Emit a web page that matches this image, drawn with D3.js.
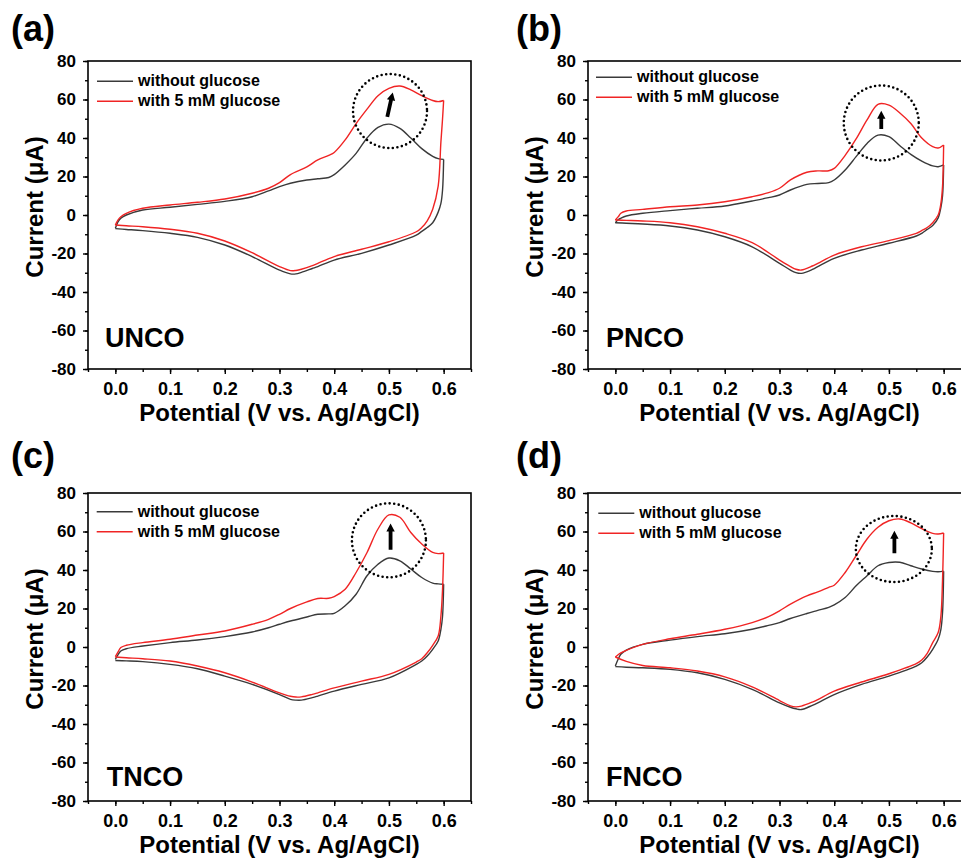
<!DOCTYPE html>
<html>
<head>
<meta charset="utf-8">
<script src="https://cdn.jsdelivr.net/npm/d3@7"></script>
<style>
  html, body { margin: 0; padding: 0; background: #fff; }
  svg { display: block; }
  text { font-family: "Liberation Sans", Arial, Helvetica, sans-serif; font-weight: bold; fill: #000; }
</style>
</head>
<body>
<svg id="chart" width="961" height="861"></svg>
<script>
// ---- Data: cyclic voltammograms (potential in V vs. Ag/AgCl, current in µA) ----
const panelLetters = ["(a)", "(b)", "(c)", "(d)"];
const sampleNames = ["UNCO", "PNCO", "TNCO", "FNCO"];
const seriesLabels = ["without glucose", "with 5 mM glucose"];

const xTickValues = [0.0, 0.1, 0.2, 0.3, 0.4, 0.5, 0.6];
const yTickValues = [-80, -60, -40, -20, 0, 20, 40, 60, 80];

// anodic sweep 0 → 0.6 V
const potentialForward = [0, 0.005, 0.01, 0.02, 0.05, 0.1, 0.15, 0.2, 0.25, 0.28, 0.3, 0.32, 0.35, 0.37, 0.39, 0.4, 0.42, 0.44, 0.46, 0.48, 0.5, 0.52, 0.54, 0.56, 0.58, 0.59, 0.6];
// cathodic sweep 0.6 → 0 V
const potentialReverse = [0.6, 0.598, 0.595, 0.59, 0.58, 0.57, 0.56, 0.55, 0.5, 0.45, 0.4, 0.37, 0.36, 0.34, 0.33, 0.32, 0.3, 0.25, 0.2, 0.15, 0.1, 0.05, 0.02, 0];

// UNCO
const uncoBlankForward   = [-6.9, -3.5, -1.7, 0, 2.6, 4, 5.5, 7.1, 9.5, 12.5, 14.7, 16.5, 18.2, 18.8, 19.5, 21, 26, 32, 40, 45.5, 47.2, 45, 40, 34.5, 30.5, 29.3, 28.9];
const uncoBlankReverse   = [28.9, 13, 6, 1.5, -4, -6.5, -8.5, -10.5, -15.6, -19.9, -23.4, -26.8, -27.8, -29.8, -30.6, -30.6, -28.6, -21.6, -15.6, -11.6, -9.5, -8.1, -7.5, -7.1];
const uncoGlucoseForward = [-5.2, -2.5, -0.9, 0.9, 3.5, 5.2, 6.6, 8.3, 11.3, 13.9, 16.8, 21, 25, 28.6, 31, 32.5, 39, 47.5, 55, 62, 65.8, 67, 65, 62, 59.5, 58.9, 59.5];
const uncoGlucoseReverse = [59.5, 50, 38, 15, 3, -3, -6.5, -8.7, -13.9, -17.8, -21.6, -25.1, -26.3, -28.2, -28.8, -28.9, -26.8, -19.6, -13.5, -9.5, -7.4, -6.1, -5.6, -5.2];

// PNCO
const pncoBlankForward   = [-4, -2.5, -1.7, -0.5, 0.9, 2.3, 3.5, 4.7, 7.3, 9, 10.4, 13, 15.9, 16.4, 16.8, 18.2, 23.4, 30.3, 37.2, 41.5, 40.7, 36, 31.5, 28, 25.5, 25.1, 26];
const pncoBlankReverse   = [26, 10, 4, -1.5, -5.5, -7.5, -9.5, -10.9, -14.7, -18.2, -22.5, -26.8, -28.3, -30.3, -29.9, -28.6, -25.1, -16.5, -11.3, -7.8, -5.7, -4.7, -4.3, -4];
const pncoGlucoseForward = [-2.6, -1, 0.9, 2.1, 2.9, 4.3, 5.2, 6.9, 9.5, 11.6, 13.9, 18.2, 22.2, 22.9, 23, 24.2, 31, 39.5, 49.4, 57.5, 57.1, 53, 47.5, 40, 35.5, 34.8, 36.4];
const pncoGlucoseReverse = [36.4, 15, 6, 0, -4, -6.5, -8.1, -9.5, -13.3, -16.5, -20.8, -25.1, -26.5, -28.6, -28.2, -26.8, -23.4, -14.4, -9.5, -6.1, -4, -3.1, -2.8, -2.6];

// TNCO
const tncoBlankForward   = [-6.4, -4, -2.1, -0.9, 0.5, 2.3, 3.6, 5.4, 7.8, 10, 11.8, 13.5, 15.6, 17, 17.2, 17.5, 21.4, 27.4, 37, 43, 46.2, 44.8, 40.5, 36.1, 33.2, 32.8, 32.6];
const tncoBlankReverse   = [32.6, 16, 9.2, 3.1, -1.2, -4.7, -7.3, -9, -16, -19.4, -22.9, -25.5, -26.3, -27.6, -27.6, -27.2, -24.7, -19.4, -15.1, -11.3, -9, -7.6, -7.2, -7];
const tncoGlucoseForward = [-5, -2.5, -0.3, 0.9, 2.3, 4, 6.2, 8.3, 11.8, 14.4, 17, 20, 23.4, 25.2, 25.3, 26.2, 30, 38.7, 49.1, 61.3, 68.6, 67.4, 59.5, 53.5, 49.1, 48.5, 48.8];
const tncoGlucoseReverse = [48.8, 30, 16.1, 5.7, 0.9, -3, -6.1, -7.8, -14.2, -17.7, -21.2, -23.8, -24.6, -25.9, -26, -25.6, -23.8, -18.2, -13.4, -9.9, -7.3, -6.1, -5.6, -5.2];

// FNCO
const fncoBlankForward   = [-9.9, -6.4, -3.8, -1.6, 1.4, 3.6, 5.4, 6.9, 9.2, 11.2, 12.7, 14.8, 17.4, 19, 20.6, 21.9, 25.7, 31.8, 37, 42.2, 43.9, 44, 42.2, 40.5, 39.3, 39.1, 39.4];
const fncoBlankReverse   = [39.4, 17.9, 9.2, 4, -1.2, -5.2, -8.2, -9.9, -15.1, -19.4, -24.7, -29, -30.3, -32.5, -32.1, -31.3, -29, -22, -16.8, -13.4, -11.6, -10.8, -10.5, -10.2];
const fncoGlucoseForward = [-5.2, -4, -3, -1.7, 1.4, 4.3, 6.6, 9.2, 12.7, 15.8, 18.8, 22.3, 26.6, 28.6, 31, 32.1, 38.7, 47.4, 56.1, 62.2, 65.6, 66.5, 64.5, 61.5, 59, 58.7, 59.2];
const fncoGlucoseReverse = [59.2, 35.2, 16.1, 7.5, 2.3, -3.3, -6.8, -8.7, -13.9, -18.2, -22.9, -27.3, -28.6, -30.7, -31.1, -30.6, -27.8, -20.7, -15.5, -12.5, -10.8, -9.6, -7.5, -5.2];

// oxidation-peak annotations: dotted circle centre and arrow (tail, head) in data units
const peakCircleCenters = [[0.502, 54], [0.486, 47.8], [0.5, 55.4], [0.509, 50.9]];
const arrowTails = [[0.497, 51], [0.486, 44.7], [0.503, 50.5], [0.51, 48.7]];
const arrowHeads = [[0.507, 63.7], [0.486, 54.2], [0.503, 64.2], [0.51, 60.4]];

const curves = [
  [[uncoBlankForward, uncoBlankReverse], [uncoGlucoseForward, uncoGlucoseReverse]],
  [[pncoBlankForward, pncoBlankReverse], [pncoGlucoseForward, pncoGlucoseReverse]],
  [[tncoBlankForward, tncoBlankReverse], [tncoGlucoseForward, tncoGlucoseReverse]],
  [[fncoBlankForward, fncoBlankReverse], [fncoGlucoseForward, fncoGlucoseReverse]]
];

// ---- Layout & style ----
const W = 383, H = 308;
const seriesColors = ["#3a3a3a", "#f02424"];
const panelLayout = [
  { left: 88,  top: 61,  letter: [11, 41],   legend: [9, 20.3],    label: [17, 285.7],   ring: [37, 37] },
  { left: 588, top: 61,  letter: [516, 41],  legend: [8, 16.3],    label: [18, 285.7],   ring: [37.5, 37.5] },
  { left: 88,  top: 493, letter: [11, 468],  legend: [8.7, 18.7],  label: [18.7, 293],   ring: [37, 37] },
  { left: 588, top: 493, letter: [516, 468], legend: [10.3, 20.3], label: [18, 293],     ring: [38, 33] }
];

const svg = d3.select("#chart");

const xMinor = d3.range(-0.05, 0.651, 0.05).map(v => +v.toFixed(2));
const yMinor = d3.range(-80, 81, 10);

panelLayout.forEach((L, i) => {
  // panel letter
  svg.append("text").attr("x", L.letter[0]).attr("y", L.letter[1])
    .attr("font-size", 36).text(panelLetters[i]);

  const g = svg.append("g").attr("transform", `translate(${L.left},${L.top})`);
  const x = d3.scaleLinear().domain([-0.05, 0.65]).range([0, W]);
  const y = d3.scaleLinear().domain([-80, 80]).range([H, 0]);

  // minor ticks
  const xm = g.append("g").attr("transform", `translate(0,${H})`)
    .call(d3.axisBottom(x).tickValues(xMinor).tickSize(3).tickSizeOuter(0).tickFormat(""));
  const ym = g.append("g")
    .call(d3.axisLeft(y).tickValues(yMinor).tickSize(3).tickSizeOuter(0).tickFormat(""));

  // major ticks + labels
  const xa = g.append("g").attr("transform", `translate(0,${H})`)
    .call(d3.axisBottom(x).tickValues(xTickValues).tickSize(5).tickSizeOuter(0).tickPadding(8).tickFormat(d3.format(".1f")));
  const ya = g.append("g")
    .call(d3.axisLeft(y).tickValues(yTickValues).tickSize(5).tickSizeOuter(0).tickPadding(7).tickFormat(d => String(d)));

  [xm, ym, xa, ya].forEach(a => {
    a.select(".domain").remove();
    a.selectAll(".tick line").attr("stroke", "#000").attr("stroke-width", 1.4);
  });
  xa.attr("font-size", 18);
  ya.attr("font-size", 17);

  // plot frame
  g.append("rect").attr("x", 0).attr("y", 0).attr("width", W).attr("height", H)
    .attr("fill", "none").attr("stroke", "#000").attr("stroke-width", 1.6);

  // curves (smooth spline through each sweep)
  const line = d3.line().x(d => x(d[0])).y(d => y(d[1])).curve(d3.curveCatmullRom.alpha(0.5));
  curves[i].forEach((series, s) => {
    const fwd = potentialForward.map((p, k) => [p, series[0][k]]);
    const rev = potentialReverse.map((p, k) => [p, series[1][k]]);
    [fwd, rev].forEach(branch => {
      g.append("path").datum(branch).attr("d", line)
        .attr("fill", "none").attr("stroke", seriesColors[s])
        .attr("stroke-width", 1.4).attr("stroke-linejoin", "round");
    });
  });

  // legend
  seriesLabels.forEach((lab, s) => {
    const ly = L.legend[1] + s * 20;
    g.append("line").attr("x1", L.legend[0]).attr("x2", L.legend[0] + 36)
      .attr("y1", ly).attr("y2", ly)
      .attr("stroke", seriesColors[s]).attr("stroke-width", 1.4);
    g.append("text").attr("x", L.legend[0] + 41).attr("y", ly + 5)
      .attr("font-size", 16).text(lab);
  });

  // dotted ring around the oxidation peak
  const c = peakCircleCenters[i];
  g.append("ellipse").attr("cx", x(c[0])).attr("cy", y(c[1]))
    .attr("rx", L.ring[0]).attr("ry", L.ring[1])
    .attr("fill", "none").attr("stroke", "#000").attr("stroke-width", 2.6)
    .attr("stroke-linecap", "round").attr("stroke-dasharray", "0 4.6");

  // arrow showing the current increase
  const x0 = x(arrowTails[i][0]), y0 = y(arrowTails[i][1]);
  const x1 = x(arrowHeads[i][0]), y1 = y(arrowHeads[i][1]);
  const len = Math.hypot(x1 - x0, y1 - y0);
  const ux = (x1 - x0) / len, uy = (y1 - y0) / len;
  const nx = -uy, ny = ux;
  const hl = 8, hw = 4.2, sw = 1.9;
  const bx = x1 - ux * hl, by = y1 - uy * hl;
  const pts = [
    [x0 + nx * sw, y0 + ny * sw], [bx + nx * sw, by + ny * sw], [bx + nx * hw, by + ny * hw],
    [x1, y1],
    [bx - nx * hw, by - ny * hw], [bx - nx * sw, by - ny * sw], [x0 - nx * sw, y0 - ny * sw]
  ];
  g.append("polygon").attr("points", pts.map(p => p.join(",")).join(" ")).attr("fill", "#000");

  // sample name
  g.append("text").attr("x", L.label[0]).attr("y", L.label[1])
    .attr("font-size", 27).text(sampleNames[i]);

  // axis titles
  g.append("text").attr("x", W / 2).attr("y", H + 52)
    .attr("text-anchor", "middle").attr("font-size", 24)
    .text("Potential (V vs. Ag/AgCl)");
  g.append("text")
    .attr("transform", `translate(-45,146) rotate(-90)`)
    .attr("text-anchor", "middle").attr("font-size", 24)
    .text("Current (μA)");
});
</script>
</body>
</html>
